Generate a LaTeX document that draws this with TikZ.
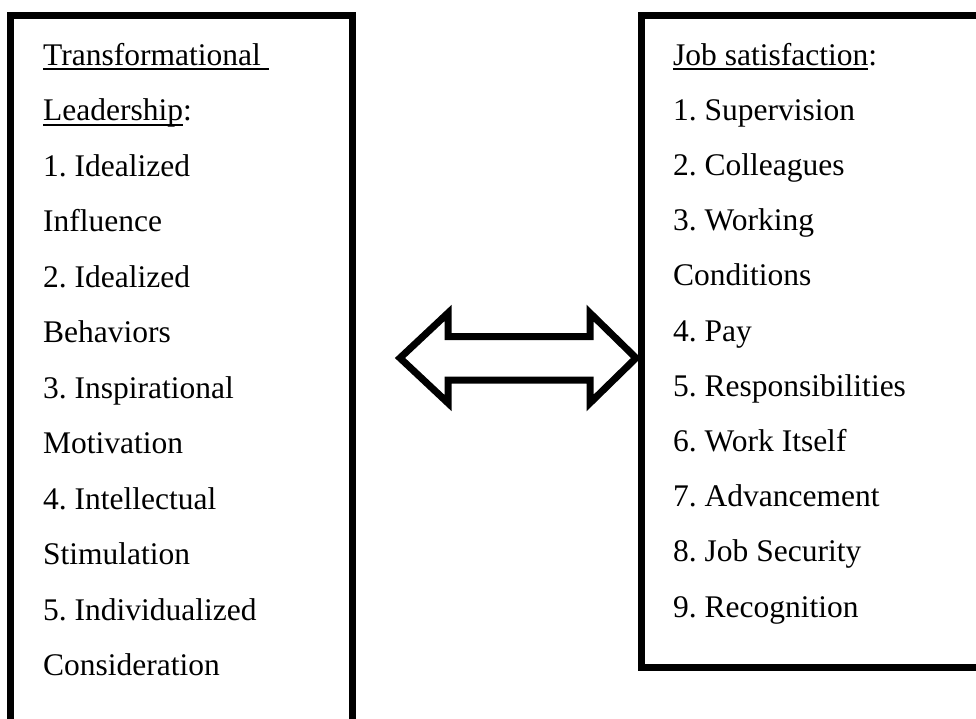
\documentclass[tikz,border=0pt]{standalone}
\usepackage{fontspec}
\setmainfont{Liberation Serif}
\usepackage{tikz}
\usetikzlibrary{arrows,shapes}
\tikzstyle{item}=[anchor=base west,inner sep=0pt,font=\fontsize{31.5}{38}\selectfont\frenchspacing]
\tikzstyle{frame} = [draw,line width=7pt]
\tikzstyle{bigarrow} = [draw,line width=7pt,fill=white]
\newcommand{\ulword}[1]{\setbox0\hbox{#1}\rlap{\rule[-5pt]{\wd0}{2pt}}\box0}

\begin{document}
\begin{tikzpicture}[x=1pt,y=-1pt]
        \useasboundingbox (0,0) rectangle (976,718);
        \clip (0,0) rectangle (976,718);
        % boxes
        \draw[frame] (10.5,740) -- (10.5,15) -- (352,15) -- (352,740);
        \draw[frame] (1000,667) -- (641,667) -- (641,15) -- (1000,15);
        % left list
        \node[item] (trans) at (43,65) {\ulword{Transformational\ }};
        \node[item] (lead) at (43,120.5) {\ulword{Leadership}:};
        \node[item] (ideal) at (43,176) {1. Idealized};
        \node[item] (infl) at (43,231.5) {Influence};
        \node[item] (idbeh) at (43,287) {2. Idealized};
        \node[item] (behav) at (43,342.5) {Behaviors};
        \node[item] (inspi) at (43,398) {3. Inspirational};
        \node[item] (motiv) at (43,453.5) {Motivation};
        \node[item] (intel) at (43,509) {4. Intellectual};
        \node[item] (stimu) at (43,564.5) {Stimulation};
        \node[item] (indiv) at (43,620) {5. Individualized};
        \node[item] (consi) at (43,675.5) {Consideration};
        % right list
        \node[item] (jobsat) at (673,65) {\ulword{Job satisfaction}:};
        \node[item] (superv) at (673,120.2) {1. Supervision};
        \node[item] (colle) at (673,175.4) {2. Colleagues};
        \node[item] (work) at (673,230.6) {3. Working};
        \node[item] (condi) at (673,285.8) {Conditions};
        \node[item] (pay) at (673,341) {4. Pay};
        \node[item] (respo) at (673,396.2) {5. Responsibilities};
        \node[item] (itself) at (673,451.4) {6. Work Itself};
        \node[item] (advan) at (673,506.6) {7. Advancement};
        \node[item] (secur) at (673,561.8) {8. Job Security};
        \node[item] (recog) at (673,617) {9. Recognition};
        % double arrow
        \draw[bigarrow] (400,358) -- (448,313) -- (448,336.5) -- (590,336.5) -- (590,313)
                -- (636,358) -- (590,403) -- (590,380) -- (448,380) -- (448,403) -- cycle;
      \end{tikzpicture}
\end{document}
